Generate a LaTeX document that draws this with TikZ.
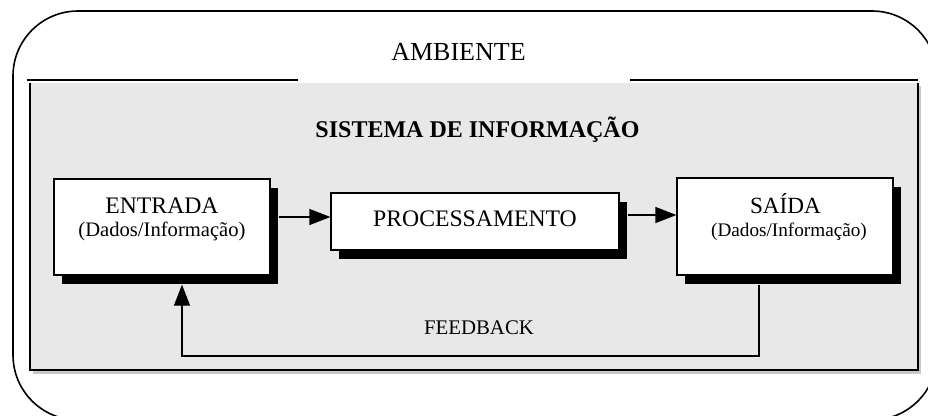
\documentclass[tikz,border=0pt]{standalone}
\usepackage{fontspec}
\setmainfont{Liberation Serif}
\usetikzlibrary{arrows.meta,shadows}
\definecolor{bg}{HTML}{E8E8E8}
\definecolor{bgshade}{HTML}{C8C8C8}
\begin{document}
\begin{tikzpicture}[x=1pt,y=-1pt,
  box/.style={draw=black, line width=1.2pt, fill=white, inner sep=0pt,
    drop shadow={shadow xshift=8pt, shadow yshift=-9pt, fill=black, opacity=1}},
  arr/.style={line width=1.2pt, -{Triangle[length=21pt,width=16pt]}},
  conn/.style={line width=1.2pt},
  lbl/.style={inner sep=0pt, anchor=base},
]
\useasboundingbox (0,0) rectangle (928,415);
\clip (0,0) rectangle (928,415);
% environment
\draw[line width=1.6pt, rounded corners=65pt] (13,11) rectangle (937,420);
% system area
\fill[bgshade] (33,86) rectangle (921,374);
\fill[bg] (30,83) rectangle (918,370);
\draw[conn] (30,83) -- (30,370) -- (918,370) -- (918,83);
\draw[conn] (27,80) -- (298,80);
\draw[conn] (630,80) -- (918,80);
\node[lbl, font=\fontsize{26}{28}\selectfont] (amb) at (458.5,60) {AMBIENTE};
\node[lbl, font=\fontsize{24}{26}\selectfont\bfseries] (sis) at (477.5,137) {SISTEMA DE INFORMAÇÃO};
% boxes
\node[box, minimum width=216pt, minimum height=96pt] (ent) at (162,227) {};
\node[box, minimum width=288pt, minimum height=57pt] (proc) at (475,221.5) {};
\node[box, minimum width=216pt, minimum height=97pt] (sai) at (785,226.5) {};
\node[lbl, font=\fontsize{23.7}{26}\selectfont] (entT) at (162,213) {ENTRADA};
\node[lbl, font=\fontsize{20.6}{23}\selectfont] (entD) at (162,236) {(Dados/Informação)};
\node[lbl, font=\fontsize{23.7}{26}\selectfont] (procT) at (475,226) {PROCESSAMENTO};
\node[lbl, font=\fontsize{23.2}{26}\selectfont] (saiT) at (785.5,213) {SAÍDA};
\node[lbl, font=\fontsize{19.2}{22}\selectfont] (saiD) at (789,236) {(Dados/Informação)};
\node[lbl, font=\fontsize{20.8}{23}\selectfont] (fb) at (479,334) {FEEDBACK};
% connectors
\coordinate (a1) at (0,217);
\coordinate (a2) at (0,215);
\coordinate (fbr) at (759,0);
\coordinate (fbl) at (182,356);
\draw[arr] ([xshift=8pt]ent.east |- a1) -- (proc.west |- a1);
\draw[arr] ([xshift=8pt]proc.east |- a2) -- (sai.west |- a2);
\draw[arr] ([yshift=-9pt]sai.south -| fbr) |- (fbl) -- ([yshift=-9pt]ent.south -| fbl);
\end{tikzpicture}
\end{document}
